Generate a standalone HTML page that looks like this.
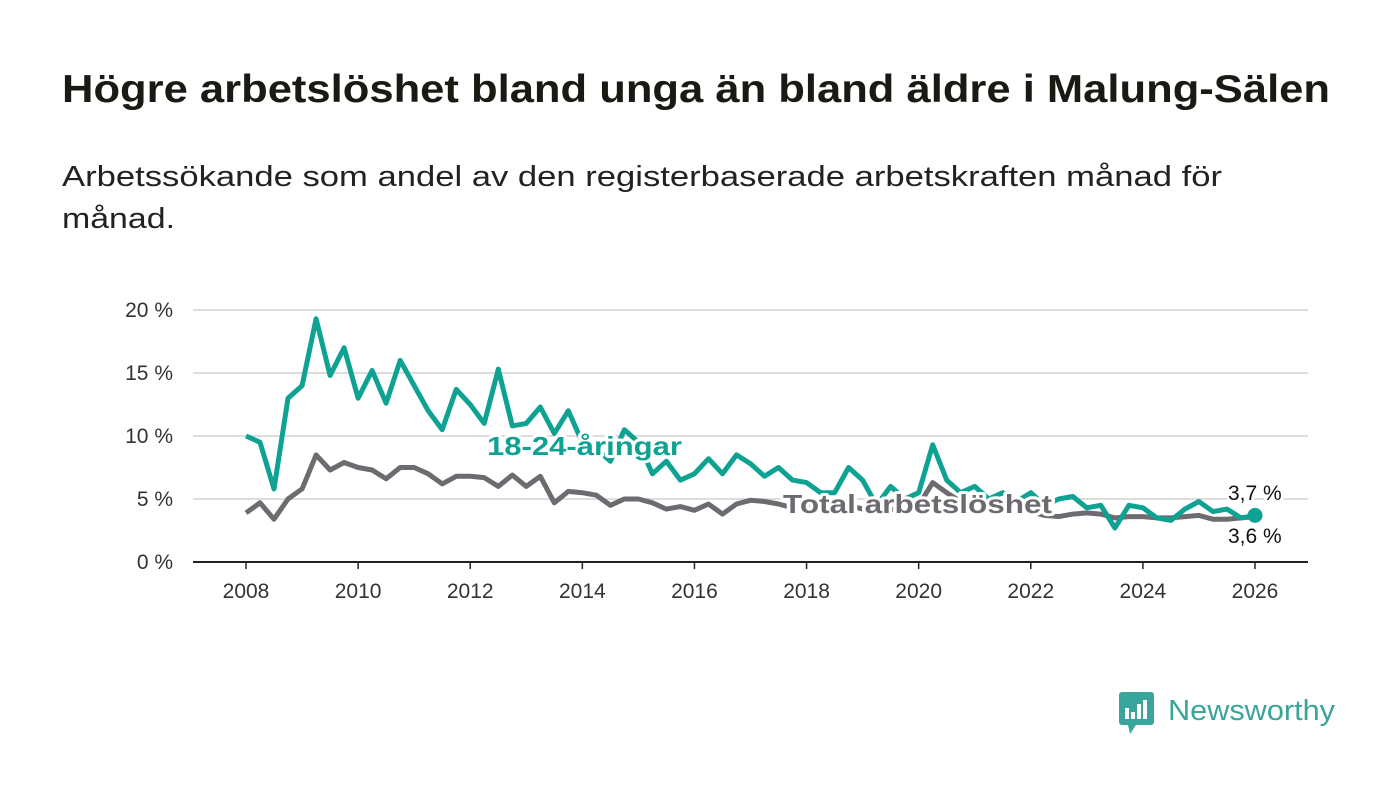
<!DOCTYPE html>
<html><head><meta charset="utf-8"><style>
body{margin:0;background:#fff;font-family:"Liberation Sans","DejaVu Sans",sans-serif;}
</style></head><body>
<svg id="chart" width="1400" height="794" xmlns="http://www.w3.org/2000/svg">
<text x="62" y="102" font-size="39" font-weight="bold" fill="#1a1a14" textLength="1268" lengthAdjust="spacingAndGlyphs">Högre arbetslöshet bland unga än bland äldre i Malung-Sälen</text>
<text x="62" y="186" font-size="29" fill="#222" textLength="1160" lengthAdjust="spacingAndGlyphs">Arbetssökande som andel av den registerbaserade arbetskraften månad för</text>
<text x="62" y="228" font-size="29" fill="#222" textLength="113" lengthAdjust="spacingAndGlyphs">månad.</text>
<g id="grid"></g><g id="xaxis"></g><g id="lines"></g><g id="labels"></g>
<g>
<rect x="1119" y="692" width="35" height="33" rx="3" fill="#3aa59a"/>
<polygon points="1128,725 1136,725 1130,734" fill="#3aa59a"/>
<rect x="1125" y="708" width="4" height="11" fill="#fff"/><rect x="1131" y="712" width="4" height="7" fill="#fff"/><rect x="1137" y="704" width="4" height="15" fill="#fff"/><rect x="1143" y="700" width="4" height="19" fill="#fff"/>
<text x="1168" y="720" font-size="29" fill="#3aa59a" textLength="167" lengthAdjust="spacingAndGlyphs">Newsworthy</text>
</g>
</svg>
<script>
const years=[2008,2010,2012,2014,2016,2018,2020,2022,2024,2026];
const yTicks=[0,5,10,15,20];
const youth=[10,9.5,5.8,13,14,19.3,14.8,17,13,15.2,12.6,16,14,12,10.5,13.7,12.5,11,15.3,10.8,11,12.3,10.2,12,9.5,9,8,10.5,9.5,7,8,6.5,7,8.2,7,8.5,7.8,6.8,7.5,6.5,6.3,5.5,5.5,7.5,6.5,4.5,6,5,5.5,9.3,6.5,5.5,6,5,5.5,4.8,5.5,4.5,5,5.2,4.3,4.5,2.7,4.5,4.3,3.5,3.3,4.2,4.8,4,4.2,3.5,3.7];
const total=[3.9,4.7,3.4,5,5.8,8.5,7.3,7.9,7.5,7.3,6.6,7.5,7.5,7,6.2,6.8,6.8,6.7,6,6.9,6,6.8,4.7,5.6,5.5,5.3,4.5,5,5,4.7,4.2,4.4,4.1,4.6,3.8,4.6,4.9,4.8,4.6,4.3,4.4,4.1,4.2,4.5,4.2,4,4.2,4,4.5,6.3,5.5,4.8,4.8,4.4,4.3,4.1,4,3.7,3.6,3.8,3.9,3.8,3.5,3.6,3.6,3.5,3.5,3.6,3.7,3.4,3.4,3.5,3.6];
const NS="http://www.w3.org/2000/svg";
const X=t=>246+(t-2008)*(1255-246)/18;
const Y=v=>562-v*12.6;
function mk(tag,attrs,parent,txt){const e=document.createElementNS(NS,tag);for(const k in attrs)e.setAttribute(k,attrs[k]);if(txt!==undefined)e.textContent=txt;parent.appendChild(e);return e;}
const grid=document.getElementById('grid'),xa=document.getElementById('xaxis'),lines=document.getElementById('lines'),lab=document.getElementById('labels');
yTicks.forEach(v=>{
 const l=mk('line',{x1:193,x2:1308,y1:Y(v),y2:Y(v),stroke:v===0?'#222':'#ddd','stroke-width':2},grid);
 
 
 const t=mk('text',{x:173,y:Y(v)+7,'font-size':21,'text-anchor':'end',fill:'#333'},grid,v+' %');
 
 
});
years.forEach(y=>{
 const l=mk('line',{x1:X(y),x2:X(y),y1:562,y2:569,stroke:'#222','stroke-width':1.5},xa);
 
 
 const t=mk('text',{x:X(y),y:598,'font-size':21,'text-anchor':'middle',fill:'#333'},xa,String(y));
 
 
});
function path(arr){return arr.map((v,i)=>(i?'L':'M')+X(2008+i*0.25).toFixed(1)+','+Y(v).toFixed(1)).join(' ');}
const pt=mk('path',{d:path(total),fill:'none',stroke:'#6d6b70','stroke-width':5,'stroke-linejoin':'round'},lines);


const py=mk('path',{d:path(youth),fill:'none',stroke:'#0ea293','stroke-width':5,'stroke-linejoin':'round'},lines);


const last=youth.length-1;
const dot=mk('circle',{cx:X(2008+last*0.25),cy:Y(youth[last]),r:7.5,fill:'#0ea293'},lines);


const halo={stroke:'#fff','stroke-width':6,'paint-order':'stroke','stroke-linejoin':'round'};
const l1=mk('text',Object.assign({x:487,y:455,'font-size':26,'font-weight':'bold',fill:'#0ea293',textLength:195,lengthAdjust:'spacingAndGlyphs'},halo),lab,'18-24-åringar');


const l2=mk('text',Object.assign({x:783,y:513,'font-size':26,'font-weight':'bold',fill:'#6d6b70',textLength:269,lengthAdjust:'spacingAndGlyphs'},halo),lab,'Total arbetslöshet');


const v1=mk('text',Object.assign({x:1228,y:500,'font-size':21,fill:'#111'},halo),lab,'3,7 %');


const v2=mk('text',Object.assign({x:1228,y:543,'font-size':21,fill:'#111'},halo),lab,'3,6 %');


</script>
</body></html>
